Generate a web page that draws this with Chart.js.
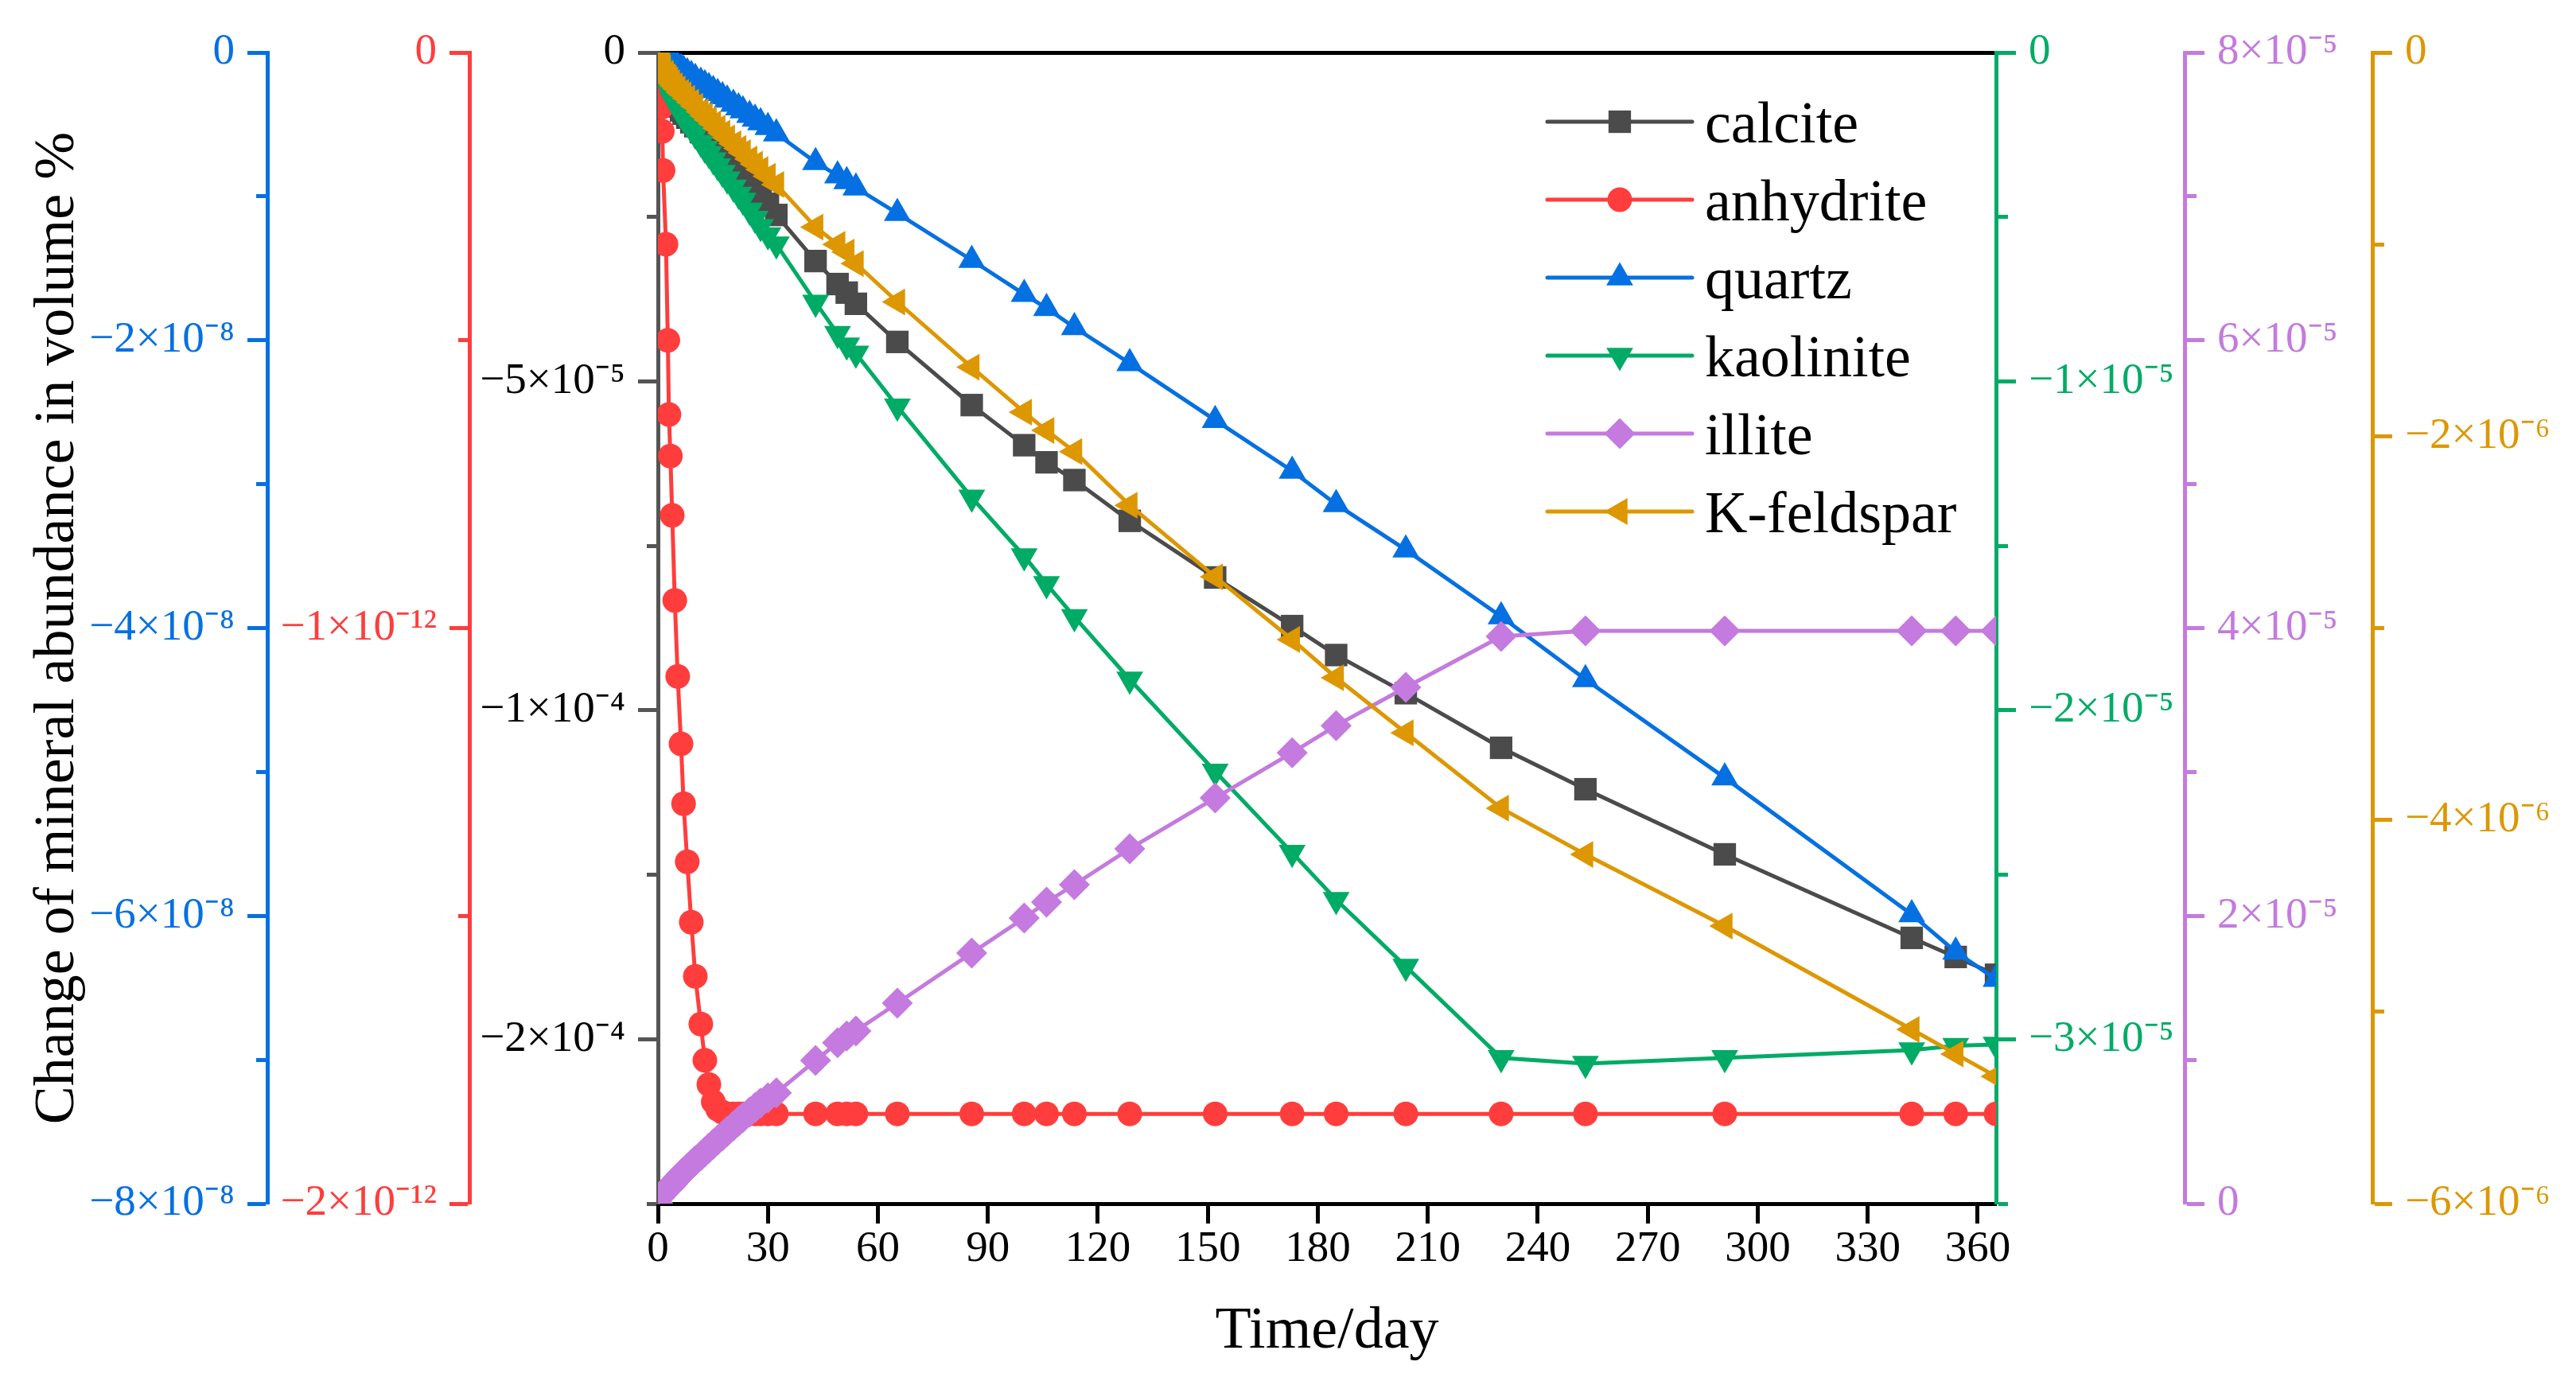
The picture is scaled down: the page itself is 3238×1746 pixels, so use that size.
<!DOCTYPE html>
<html>
<head>
<meta charset="utf-8">
<title>Change of mineral abundance</title>
<script src="https://cdn.jsdelivr.net/npm/chart.js@4.4.1/dist/chart.umd.min.js"></script>
<style>
    html, body { margin: 0; padding: 0; background: #ffffff; }
    #wrap { width: 3238px; height: 1746px; }
</style>
</head>
<body>
<div id="wrap"><canvas id="myChart" width="3238" height="1746"></canvas></div>
<script>

// simulation output times (day)
var days = [0, 0.6, 1.0, 1.2, 1.4, 2.2, 2.7, 3.0, 3.4, 3.9, 4.6, 5.4, 6.3, 7.0, 8.0, 9.1, 10.2, 11.7, 12.8, 13.9,
    15.1, 16.3, 17.6, 18.9, 20.6, 22.0, 23.2, 25.0, 26.5, 28, 30, 32.3, 43, 49, 51.5, 54, 65.3, 85.6, 99.9, 106,
    113.6, 128.7, 152, 173, 185, 204, 230, 253, 291, 342, 354, 365];

// change of mineral abundance (volume %), one array per mineral
var calcite = [0, -3.0e-6, -4.6e-6, -5.2e-6, -5.7e-6, -6.3e-6, -6.6e-6, -6.8e-6, -7.0e-6, -7.3e-6, -7.7e-6, -8.2e-6,
    -8.8e-6, -9.3e-6, -9.9e-6, -1.06e-5, -1.12e-5, -1.21e-5, -1.28e-5, -1.35e-5, -1.42e-5, -1.49e-5, -1.56e-5,
    -1.64e-5, -1.74e-5, -1.82e-5, -1.88e-5, -1.98e-5, -2.07e-5, -2.17e-5, -2.30e-5, -2.47e-5, -3.17e-5, -3.52e-5,
    -3.65e-5, -3.82e-5, -4.40e-5, -5.36e-5, -5.97e-5, -6.23e-5, -6.50e-5, -7.12e-5, -7.98e-5, -8.72e-5, -9.16e-5,
    -9.74e-5, -1.057e-4, -1.120e-4, -1.219e-4, -1.346e-4, -1.375e-4, -1.402e-4];

var anhydrite = [0, -5.4e-14, -9.5e-14, -1.37e-13, -2.05e-13, -3.33e-13, -5.00e-13, -6.29e-13, -7.01e-13, -8.04e-13,
    -9.52e-13, -1.084e-12, -1.201e-12, -1.305e-12, -1.406e-12, -1.511e-12, -1.605e-12, -1.688e-12, -1.751e-12,
    -1.793e-12, -1.823e-12, -1.836e-12, -1.841e-12, -1.844e-12, -1.844e-12, -1.844e-12, -1.844e-12, -1.844e-12,
    -1.844e-12, -1.844e-12, -1.844e-12, -1.844e-12, -1.844e-12, -1.844e-12, -1.844e-12, -1.844e-12, -1.844e-12,
    -1.844e-12, -1.844e-12, -1.844e-12, -1.844e-12, -1.844e-12, -1.844e-12, -1.844e-12, -1.844e-12, -1.844e-12,
    -1.844e-12, -1.844e-12, -1.844e-12, -1.844e-12, -1.844e-12, -1.844e-12];

var quartz = [0, -1.0e-10, -1.7e-10, -2.1e-10, -2.4e-10, -3.8e-10, -4.7e-10, -5.2e-10, -5.9e-10, -6.8e-10, -8.0e-10,
    -9.4e-10, -1.10e-9, -1.22e-9, -1.39e-9, -1.58e-9, -1.78e-9, -2.04e-9, -2.23e-9, -2.42e-9, -2.63e-9, -2.84e-9,
    -3.06e-9, -3.29e-9, -3.58e-9, -3.83e-9, -4.04e-9, -4.35e-9, -4.61e-9, -4.87e-9, -5.20e-9, -5.64e-9, -7.63e-9,
    -8.55e-9, -8.95e-9, -9.40e-9, -1.117e-8, -1.443e-8, -1.680e-8, -1.777e-8, -1.910e-8, -2.160e-8, -2.555e-8,
    -2.908e-8, -3.140e-8, -3.456e-8, -3.920e-8, -4.357e-8, -5.040e-8, -5.990e-8, -6.250e-8, -6.440e-8];

var kaolinite = [0, -4.5e-7, -6.5e-7, -7.2e-7, -7.8e-7, -9.5e-7, -1.05e-6, -1.12e-6, -1.20e-6, -1.40e-6, -1.55e-6,
    -1.70e-6, -1.86e-6, -1.98e-6, -2.13e-6, -2.31e-6, -2.49e-6, -2.74e-6, -2.92e-6, -3.08e-6, -3.27e-6, -3.45e-6,
    -3.65e-6, -3.85e-6, -4.10e-6, -4.32e-6, -4.50e-6, -4.80e-6, -5.05e-6, -5.30e-6, -5.55e-6, -5.83e-6, -7.60e-6,
    -8.55e-6, -8.90e-6, -9.15e-6, -1.076e-5, -1.353e-5, -1.531e-5, -1.616e-5, -1.716e-5, -1.906e-5, -2.186e-5,
    -2.433e-5, -2.576e-5, -2.779e-5, -3.057e-5, -3.074e-5, -3.057e-5, -3.033e-5, -3.020e-5, -3.016e-5];

var illite = [0, 4.5e-7, 6.0e-7, 6.6e-7, 7.1e-7, 9.2e-7, 1.05e-6, 1.12e-6, 1.22e-6, 1.36e-6, 1.55e-6, 1.78e-6,
    2.02e-6, 2.20e-6, 2.45e-6, 2.72e-6, 2.98e-6, 3.33e-6, 3.60e-6, 3.86e-6, 4.14e-6, 4.42e-6, 4.72e-6, 5.02e-6,
    5.40e-6, 5.72e-6, 5.98e-6, 6.36e-6, 6.68e-6, 7.00e-6, 7.35e-6, 7.70e-6, 9.95e-6, 1.118e-5, 1.165e-5, 1.200e-5,
    1.393e-5, 1.742e-5, 1.985e-5, 2.095e-5, 2.217e-5, 2.466e-5, 2.819e-5, 3.134e-5, 3.322e-5, 3.588e-5, 3.942e-5,
    3.980e-5, 3.980e-5, 3.980e-5, 3.980e-5, 3.980e-5];

var kfeldspar = [0, -4.0e-8, -6.0e-8, -7.0e-8, -8.0e-8, -1.10e-7, -1.26e-7, -1.35e-7, -1.45e-7, -1.58e-7, -1.74e-7,
    -1.90e-7, -2.08e-7, -2.20e-7, -2.39e-7, -2.59e-7, -2.80e-7, -3.08e-7, -3.30e-7, -3.50e-7, -3.72e-7, -3.95e-7,
    -4.20e-7, -4.45e-7, -4.75e-7, -5.00e-7, -5.22e-7, -5.55e-7, -5.82e-7, -6.10e-7, -6.45e-7, -6.88e-7, -9.10e-7,
    -1.00e-6, -1.04e-6, -1.10e-6, -1.30e-6, -1.64e-6, -1.875e-6, -1.97e-6, -2.08e-6, -2.36e-6, -2.733e-6, -3.06e-6,
    -3.259e-6, -3.546e-6, -3.939e-6, -4.18e-6, -4.553e-6, -5.092e-6, -5.22e-6, -5.337e-6];

// ticks of every axis (empty label = minor tick)
var xTicks = [0, 30, 60, 90, 120, 150, 180, 210, 240, 270, 300, 330, 360];
var xLabels = ['0', '30', '60', '90', '120', '150', '180', '210', '240', '270', '300', '330', '360'];

var mainTicks = [0, -2.5e-5, -5e-5, -7.5e-5, -1e-4, -1.25e-4, -1.5e-4, -1.75e-4];
var mainLabels = ['0', '', '−5×10⁻⁵', '', '−1×10⁻⁴', '', '−2×10⁻⁴', ''];

var blueTicks = [0, -1e-8, -2e-8, -3e-8, -4e-8, -5e-8, -6e-8, -7e-8, -8e-8];
var blueLabels = ['0', '', '−2×10⁻⁸', '', '−4×10⁻⁸', '', '−6×10⁻⁸', '', '−8×10⁻⁸'];

var redTicks = [0, -5e-13, -1e-12, -1.5e-12, -2e-12];
var redLabels = ['0', '', '−1×10⁻¹²', '', '−2×10⁻¹²'];

var greenTicks = [0, -5e-6, -1e-5, -1.5e-5, -2e-5, -2.5e-5, -3e-5, -3.5e-5];
var greenLabels = ['0', '', '−1×10⁻⁵', '', '−2×10⁻⁵', '', '−3×10⁻⁵', ''];

var purpleTicks = [0, 1e-5, 2e-5, 3e-5, 4e-5, 5e-5, 6e-5, 7e-5, 8e-5];
var purpleLabels = ['0', '', '2×10⁻⁵', '', '4×10⁻⁵', '', '6×10⁻⁵', '', '8×10⁻⁵'];

var orangeTicks = [0, -1e-6, -2e-6, -3e-6, -4e-6, -5e-6, -6e-6];
var orangeLabels = ['0', '', '−2×10⁻⁶', '', '−4×10⁻⁶', '', '−6×10⁻⁶'];


var GREY = '#4b4b4b';
var RED = '#ff3d3d';
var BLUE = '#0570e2';
var GREEN = '#00ab66';
var PURPLE = '#c47ade';
var ORANGE = '#dd9700';

var FONT = '"Liberation Serif", "Times New Roman", serif';
var TICK_SIZE = 55;
Chart.defaults.font.family = FONT;

function points(values) {
    return days.map(function (d, i) {
        return {x: d, y: values[i]};
    });
}

function series(label, values, colour, axis, style, radius, rotation, order) {
    return {
        label: label,
        data: points(values),
        yAxisID: axis,
        borderColor: colour,
        backgroundColor: colour,
        pointBackgroundColor: colour,
        pointBorderWidth: 0,
        pointStyle: style,
        pointRadius: radius,
        pointRotation: rotation,
        borderWidth: 5,
        tension: 0,
        order: order
    };
}

// one vertical axis, ticks pointing outwards, minor ticks shorter
function sideAxis(position, weight, colour, labelColour, width, tickValues, tickLabels) {
    return {
        type: 'linear',
        position: position,
        weight: weight,
        bounds: 'data',
        min: Math.min.apply(null, tickValues),
        max: Math.max.apply(null, tickValues),
        afterBuildTicks: function (scale) {
            scale.ticks = tickValues.map(function (v) { return {value: v}; });
        },
        afterFit: function (scale) {
            scale.width = width;
        },
        ticks: {
            color: labelColour,
            font: {size: TICK_SIZE},
            padding: 16,
            autoSkip: false,
            maxRotation: 0,
            callback: function (value, index) {
                return tickLabels[index];
            }
        },
        grid: {
            display: true,
            drawOnChartArea: false,
            drawTicks: true,
            tickLength: 25,
            tickWidth: 5,
            tickColor: colour,
            tickBorderDash: function (ctx) {
                if (ctx.index === undefined || tickLabels[ctx.index] !== '') {
                    return [];
                }
                return position === 'left' ? [0, 11, 20, 100] : [12, 100];
            }
        },
        border: {display: true, color: colour, width: 5}
    };
}

// legend drawn inside the plot: line + marker + name
var insideLegend = {
    id: 'insideLegend',
    afterDatasetsDraw: function (chart) {
        var ctx = chart.ctx;
        var area = chart.chartArea;
        var x0 = area.right - 564;
        var x1 = area.right - 382;
        var top = area.top + 87;
        chart.data.datasets.forEach(function (ds, i) {
            var y = top + i * 98;
            ctx.save();
            ctx.strokeStyle = ds.borderColor;
            ctx.lineWidth = 5;
            ctx.lineCap = 'round';
            ctx.beginPath();
            ctx.moveTo(x0, y);
            ctx.lineTo(x1, y);
            ctx.stroke();
            ctx.fillStyle = ds.pointBackgroundColor;
            Chart.helpers.drawPoint(ctx, {
                pointStyle: ds.pointStyle,
                rotation: ds.pointRotation,
                radius: ds.pointRadius,
                borderWidth: 0
            }, (x0 + x1) / 2, y);
            ctx.fillStyle = '#000000';
            ctx.font = '74px ' + FONT;
            ctx.textAlign = 'left';
            ctx.textBaseline = 'alphabetic';
            ctx.fillText(ds.label, x1 + 16, y + 26);
            ctx.restore();
        });
    }
};

function drawChart() {

    var blueAxis = sideAxis('left', 2, BLUE, BLUE, 336, blueTicks, blueLabels);
    blueAxis.title = {
        display: true,
        text: 'Change of mineral abundance in volume %',
        color: '#000000',
        font: {size: 72},
        padding: {top: 30, bottom: 0}
    };

    var ctx = document.getElementById('myChart').getContext('2d');

    var chart = new Chart(ctx, {
        type: 'line',
        data: {
            datasets: [
                series('calcite', calcite, GREY, 'yMain', 'rect', 20, 0, 6),
                series('anhydrite', anhydrite, RED, 'yRed', 'circle', 15.5, 0, 5),
                series('quartz', quartz, BLUE, 'yBlue', 'triangle', 19.5, 0, 4),
                series('kaolinite', kaolinite, GREEN, 'yGreen', 'triangle', 19.5, 180, 3),
                series('illite', illite, PURPLE, 'yPurple', 'rectRot', 19.5, 0, 2),
                series('K-feldspar', kfeldspar, ORANGE, 'yOrange', 'triangle', 19.5, 270, 1)
            ]
        },
        options: {
            responsive: false,
            devicePixelRatio: 1,
            animation: false,
            layout: {
                padding: {top: 66, left: 0, right: 0, bottom: 0}
            },
            plugins: {
                legend: {display: false},
                tooltip: {enabled: false}
            },
            scales: {
                x: {
                    type: 'linear',
                    position: 'bottom',
                    bounds: 'data',
                    min: 0,
                    max: 365,
                    afterBuildTicks: function (scale) {
                        scale.ticks = xTicks.map(function (v) { return {value: v}; });
                    },
                    afterFit: function (scale) {
                        scale.height = 233;
                    },
                    ticks: {
                        color: '#000000',
                        font: {size: TICK_SIZE},
                        padding: 0,
                        autoSkip: false,
                        maxRotation: 0,
                        callback: function (value, index) {
                            return xLabels[index];
                        }
                    },
                    grid: {
                        display: true,
                        drawOnChartArea: false,
                        drawTicks: true,
                        tickLength: 25,
                        tickWidth: 5,
                        tickColor: '#000000'
                    },
                    border: {display: true, color: '#000000', width: 5},
                    title: {
                        display: true,
                        text: 'Time/day',
                        color: '#000000',
                        font: {size: 74},
                        padding: {top: 0, bottom: 27}
                    }
                },
                xTop: {
                    type: 'linear',
                    position: 'top',
                    bounds: 'data',
                    min: 0,
                    max: 365,
                    afterFit: function (scale) {
                        scale.height = 0;
                    },
                    ticks: {display: false},
                    grid: {display: true, drawOnChartArea: false, drawTicks: false},
                    border: {display: true, color: '#000000', width: 5}
                },
                yMain: sideAxis('left', 0, '#555555', '#000000', 237, mainTicks, mainLabels),
                yRed: sideAxis('left', 1, RED, RED, 254, redTicks, redLabels),
                yBlue: blueAxis,
                yGreen: sideAxis('right', 0, GREEN, GREEN, 237, greenTicks, greenLabels),
                yPurple: sideAxis('right', 1, PURPLE, PURPLE, 236, purpleTicks, purpleLabels),
                yOrange: sideAxis('right', 2, ORANGE, ORANGE, 256, orangeTicks, orangeLabels)
            }
        },
        plugins: [insideLegend]
    });
}

window.onload = function () {

    drawChart();

};
</script>
</body>
</html>
